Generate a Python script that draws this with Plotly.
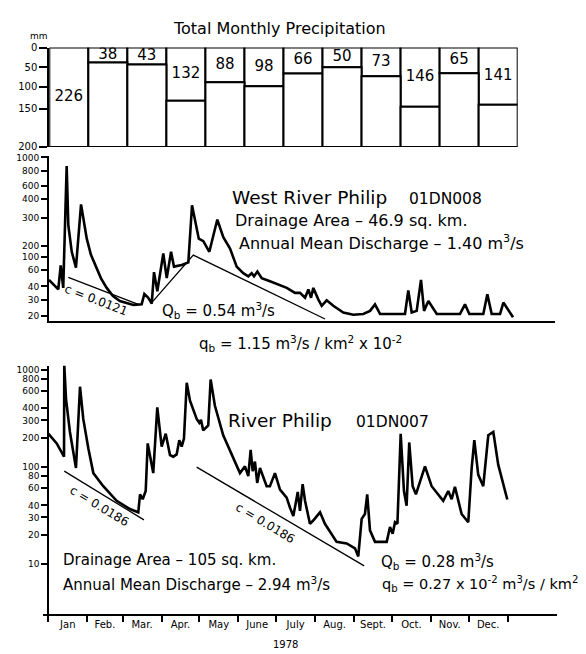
import numpy as np
import plotly.graph_objects as go

# ---------------- data ----------------
months = ["Jan", "Feb.", "Mar.", "Apr.", "May", "June", "July", "Aug.", "Sept.", "Oct.", "Nov.", "Dec."]
month_start_day = [0, 31, 59, 90, 120, 151, 181, 212, 243, 273, 304, 334, 365]
precip_mm = [226, 38, 43, 132, 88, 98, 66, 50, 73, 146, 65, 141]
precip_ticks = [0, 50, 100, 150, 200]

# West River Philip 01DN008 daily discharge (x 10^-2 m3/s), day of year
west_day = [0, 7.3, 9.2, 11.2, 13.9, 15.2, 17.9, 21.2, 25.2, 29.7, 33.0, 37.5, 40.9, 45.4, 50.3,
            55.8, 60.6, 66.3, 72.9, 75, 78.1, 80.8, 82.6, 85.2, 89.9, 92.6, 96, 98.3, 104.4,
            109.6, 112.5, 117.8, 121.4, 126.1, 132.4, 137.1, 142.4, 147.6, 152.8, 156.8, 159.4,
            161.3, 163.9, 167.3, 173.8, 181.7, 187, 193.5, 197.4, 201.4, 204, 206.1, 207.9,
            211.8, 214.5, 218.4, 223.6, 231.5, 239.4, 247.2, 252.5, 256.4, 260.4, 280, 282.6,
            285.3, 289.2, 292.6, 295, 298.4, 305, 323.3, 327.2, 330.6, 341.6, 344.8, 348.2,
            354.8, 357.4, 365]
west_q = [47, 37.5, 71, 38.8, 867, 269, 137, 65.5, 367, 222, 113, 64, 48.8, 38.8, 32.5,
          29, 27.6, 26.3, 26.7, 34, 31.3, 27.2, 56.6, 36.1, 123, 49, 137, 68, 72.6,
          80, 362, 222, 214, 137, 292, 227, 169, 68, 55.3, 51.2, 55.3,
          51.2, 57.5, 49, 45.4, 41.3, 38.8, 34.8, 34.8, 31.3, 37.5, 31.3, 38.8,
          30.2, 25.7, 29.5, 25.7, 21.7, 20.5, 20.9, 22.6, 26.6, 20.9, 20.9, 36.7,
          21.7, 22.6, 47, 22.6, 29, 20.9, 20.9, 26.7, 20.9, 20.9, 33.7, 20.9,
          20.9, 27.9, 19.2]
west_base1_day = [15.2, 70.2]
west_base1_q = [50, 26.7]
west_base2_day = [80.8, 113.5, 217.1]
west_base2_q = [27.8, 111, 18.4]
west_ticks = [20, 30, 40, 60, 100, 200, 300, 400, 600, 800, 1000]

# River Philip 01DN007
river_day = [0, 6.7, 12.5, 12.7, 14.1, 17.2, 22, 25.2, 27.8, 31.8, 35.8, 43.7, 54.3, 64.9,
             71.5, 72.9, 75, 77.4, 79, 83.4, 86.6, 90.1, 93.3, 96.7, 99.3, 102, 104.1, 106,
             107.8, 110, 112.6, 117.9, 120, 121.3, 123.1, 127.1, 129, 132.4, 139, 147, 152.3,
             156.3, 158.9, 160.8, 162.4, 164.2, 166, 168.2, 173.5, 176.1, 180.1, 184.1, 189.4,
             192, 194.7, 197.4, 198.2, 200, 202.1, 204, 207.9, 210.5, 215.9, 219.8, 223.8,
             229.1, 237.1, 243.7, 246.3, 249, 251.6, 253.4, 255.6, 259.6, 268.9, 271.5, 273.6,
             275.5, 277.4, 280, 282.6, 284.7, 286.8, 289.5, 292.1, 296.7, 299.3, 304.6, 313.8,
             317.8, 320.5, 323.1, 328.4, 333.7, 336.4, 338.5, 341.6, 345.6, 349.6, 353.6,
             357.5, 364.7]
river_q = [219, 174, 127, 1120, 498, 228, 97, 668, 311, 155, 86, 63, 44.6, 36.6,
           33.9, 52, 46.3, 56.2, 174, 86, 409, 161, 219, 132, 127, 134, 188, 161,
           195, 733, 480, 311, 284, 304, 237, 266, 792, 425, 211, 122, 86,
           101, 80, 149, 90, 113, 68, 97, 63, 63, 86, 58, 48,
           38, 31, 48, 55, 35, 66, 44.6, 25.8, 27.9, 33.9, 25.8, 21.2,
           16.8, 16.2, 14.4, 11.9, 29, 32.6, 52, 22.1, 16.8, 16.8, 23.9, 20.4,
           26.8, 25.8, 219, 56.2, 39.6, 178, 63, 52, 77, 101, 63, 44.6,
           56.2, 46.3, 62, 32.6, 26.8, 97, 188, 83, 63, 211, 228,
           105, 46]
river_base1_day = [12.7, 76]
river_base1_q = [90, 28.3]
river_base2_day = [117.9, 251]
river_base2_q = [99, 9.5]
river_ticks = [10, 20, 30, 40, 60, 80, 100, 200, 300, 400, 600, 800, 1000]

# ---------------- hand-drawn (non-uniform) axis scales ----------------
TOP_KNOT_V = [0, 50, 100, 150, 200]
TOP_KNOT_P = [0, 20, 40, 62, 101]


def f_top(v):
    return np.interp(np.minimum(np.asarray(v, float), 200), TOP_KNOT_V, TOP_KNOT_P)


MID_KNOT_V = [10, 20, 30, 40, 60, 100, 200, 300, 400, 600, 800, 1000]
MID_KNOT_P = [-22.2, 5.7, 22, 35.4, 52.4, 65.7, 76.7, 105.4, 124.7, 138, 153, 166.7]


def f_mid(v):
    return np.interp(np.log10(np.asarray(v, float)), np.log10(MID_KNOT_V), MID_KNOT_P)


W, H = 586, 654


def fx(p):
    return p / W


def fy(p):
    return 1 - p / H


FONT = "DejaVu Sans"
fig = go.Figure()

# ---------------- top: precipitation boxes ----------------
xs = list(range(1, 13))
upper = f_top(precip_mm)
fig.add_trace(go.Bar(x=xs, y=upper, base=[0] * 12, width=1,
                     marker=dict(color="white", line=dict(color="black", width=2)),
                     xaxis="x", yaxis="y", hoverinfo="skip", showlegend=False))
fig.add_trace(go.Bar(x=xs, y=f_top([200] * 12) - upper, base=upper, width=1,
                     marker=dict(color="white", line=dict(color="black", width=2)),
                     xaxis="x", yaxis="y", hoverinfo="skip", showlegend=False))
fig.add_trace(go.Scatter(x=xs, y=upper / 2, mode="text", text=[str(v) for v in precip_mm],
                         textfont=dict(family=FONT, size=15, color="black"),
                         xaxis="x", yaxis="y", hoverinfo="skip", showlegend=False))

# ---------------- middle: West River Philip ----------------
line_main = dict(color="black", width=2.6)
line_base = dict(color="black", width=1.3)
fig.add_trace(go.Scatter(x=west_day, y=f_mid(west_q), mode="lines", line=line_main,
                         xaxis="x2", yaxis="y2", showlegend=False))
fig.add_trace(go.Scatter(x=west_base1_day, y=f_mid(west_base1_q), mode="lines", line=line_base,
                         xaxis="x2", yaxis="y2", showlegend=False))
fig.add_trace(go.Scatter(x=west_base2_day, y=f_mid(west_base2_q), mode="lines", line=line_base,
                         xaxis="x2", yaxis="y2", showlegend=False))

# ---------------- bottom: River Philip ----------------
fig.add_trace(go.Scatter(x=river_day, y=river_q, mode="lines", line=line_main,
                         xaxis="x3", yaxis="y3", showlegend=False))
fig.add_trace(go.Scatter(x=river_base1_day, y=river_base1_q, mode="lines", line=line_base,
                         xaxis="x3", yaxis="y3", showlegend=False))
fig.add_trace(go.Scatter(x=river_base2_day, y=river_base2_q, mode="lines", line=line_base,
                         xaxis="x3", yaxis="y3", showlegend=False))

axis_common = dict(showgrid=False, zeroline=False, showline=True, linecolor="black", linewidth=2,
                   tickcolor="black", tickwidth=1.5)
tick10 = dict(family=FONT, size=10, color="black")
tick9 = dict(family=FONT, size=9, color="black")

month_mid = [(month_start_day[i] + month_start_day[i + 1]) / 2 for i in range(12)]

fig.update_layout(
    width=W, height=H, autosize=False,
    margin=dict(l=0, r=0, t=0, b=0),
    paper_bgcolor="white", plot_bgcolor="white",
    barmode="overlay", showlegend=False,
    font=dict(family=FONT, color="black"),
    xaxis=dict(domain=[fx(49.3), fx(517.7)], range=[0.5, 12.5], visible=False, anchor="y", fixedrange=True),
    yaxis=dict(domain=[fy(143.3), fy(42.3)], range=[101, 0], anchor="x",
               tickmode="array", tickvals=list(f_top(precip_ticks)), ticktext=[str(t) for t in precip_ticks],
               ticks="outside", ticklen=8, tickfont=tick10, **axis_common),
    xaxis2=dict(domain=[fx(49), fx(555)], range=[0, 398], anchor="y2",
                showticklabels=False, ticks="", **axis_common),
    yaxis2=dict(domain=[fy(320.7), fy(153)], range=[0, 167.7], anchor="x2",
                tickmode="array", tickvals=list(f_mid(west_ticks)), ticktext=[str(t) for t in west_ticks],
                ticks="outside", ticklen=6, tickfont=tick9, **axis_common),
    xaxis3=dict(domain=[fx(43), fx(557)], range=[-4.2, 404.2], anchor="y3",
                tickmode="array", tickvals=month_mid, ticktext=months, ticks="",
                minor=dict(tickmode="array", tickvals=month_start_day, ticks="outside",
                           ticklen=6, tickcolor="black", tickwidth=1.5),
                tickfont=tick10, **axis_common),
    yaxis3=dict(domain=[fy(618.3), fy(366)], type="log", range=[0.483, 3.04],
                anchor="free", position=fx(48.3),
                tickmode="array", tickvals=river_ticks, ticktext=[str(t) for t in river_ticks],
                ticks="outside", ticklen=6, tickfont=tick9, **axis_common),
)


def ann(text, x, y, size, xanchor="left", angle=0):
    fig.add_annotation(text=text, x=fx(x), y=fy(y), xref="paper", yref="paper",
                       xanchor=xanchor, yanchor="middle", showarrow=False, textangle=angle,
                       font=dict(family=FONT, size=size, color="black"))


ann("Total Monthly Precipitation", 279.5, 23, 16, "center")
ann("mm", 39, 31, 9, "center")
ann("West River Philip", 230, 195, 18.5)
ann("01DN008", 407, 196, 15.5)
ann("Drainage Area – 46.9 sq. km.", 233, 218, 16)
ann("Annual Mean Discharge – 1.40 m<sup>3</sup>/s", 237, 241, 16)
ann("c = 0.0121", 96, 299, 12, "center", 21)
ann("Q<sub>b</sub> = 0.54 m<sup>3</sup>/s", 160, 310, 15)
ann("q<sub>b</sub> = 1.15 m<sup>3</sup>/s / km<sup>2</sup> x 10<sup>-2</sup>", 300, 343, 15, "center")
ann("River Philip", 226, 422, 18.5)
ann("01DN007", 354, 423, 15.5)
ann("c = 0.0186", 99, 509, 12, "center", 31)
ann("c = 0.0186", 265, 526, 12, "center", 31)
ann("Drainage Area – 105 sq. km.", 61, 563, 15)
ann("Annual Mean Discharge – 2.94 m<sup>3</sup>/s", 61, 588, 15)
ann("Q<sub>b</sub> = 0.28 m<sup>3</sup>/s", 379, 565, 15)
ann("q<sub>b</sub> = 0.27 x 10<sup>-2</sup> m<sup>3</sup>/s / km<sup>2</sup>", 380, 588, 14.5)
ann("1978", 285, 649, 10, "center")

fig.write_html("out.html")
